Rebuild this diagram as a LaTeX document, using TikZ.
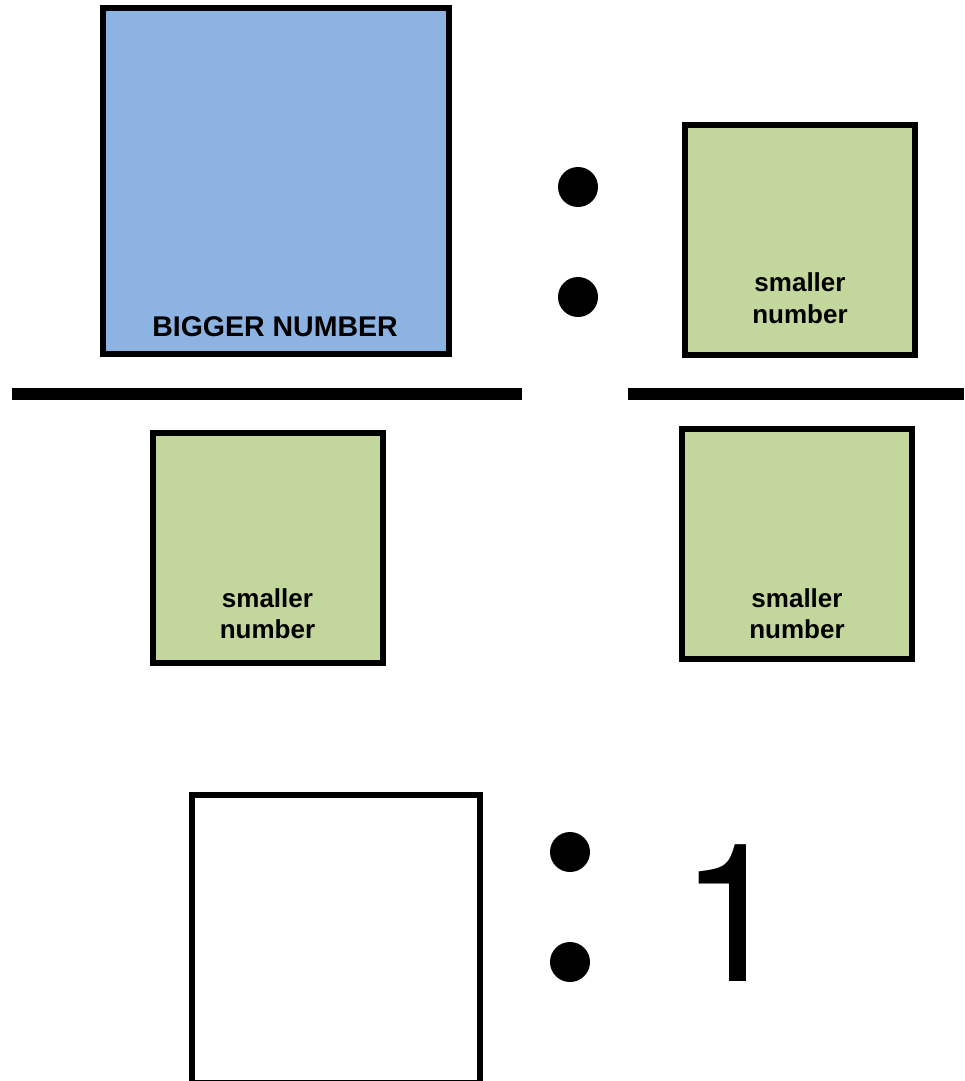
\documentclass[tikz,border=0pt]{standalone}
\usepackage{fontspec}
\setmainfont{Liberation Sans}
\newfontfamily\onefont{TeX Gyre Heros}
\usetikzlibrary{positioning}
\definecolor{bigblue}{HTML}{8DB3E2}
\definecolor{smallgreen}{HTML}{C3D69B}
\tikzset{
  bigbox/.style={draw=black, line width=6pt, fill=bigblue, inner sep=0pt,
                 minimum width=346pt, minimum height=346pt},
  smallbox/.style={draw=black, line width=6pt, fill=smallgreen, inner sep=0pt,
                   minimum size=230pt},
  blankbox/.style={draw=black, line width=6pt, fill=white, inner sep=0pt,
                   minimum size=288pt},
  dotmark/.style={circle, fill=black, inner sep=0pt, minimum size=40pt},
  boxlabel/.style={font=\bfseries\fontsize{26}{31}\selectfont, align=center, inner sep=0pt},
  bar/.style={line width=12pt, draw=black},
}
\begin{document}
\begin{tikzpicture}[x=1pt, y=-1pt]
  \useasboundingbox (0,0) rectangle (964,1081);
  % top row
  \node[bigbox] (big) at (275.75,181) {};
  \node[boxlabel, font=\bfseries\fontsize{28.5}{34}\selectfont, anchor=base] (bigtxt) at (275,336.5) {BIGGER NUMBER};
  \node[smallbox] (numR) at (800,239.5) {};
  \node[boxlabel, anchor=base] (numRtxt) at (800,291.5) {smaller};
  \node[boxlabel, anchor=base] (numRtxtb) at (800,323) {number};
  \foreach \y [count=\i] in {187,297}{
    \node[dotmark] (dotA\i) at (578,\y) {};
  }
  % fraction bars
  \coordinate (barLa) at (12,394);
  \coordinate (barLb) at (522,394);
  \coordinate (barRa) at (628,394);
  \coordinate (barRb) at (964,394);
  \draw[bar] (barLa) -- (barLb);
  \draw[bar] (barRa) -- (barRb);
  % denominators
  \node[smallbox] (denL) at (267.5,547.5) {};
  \node[smallbox] (denR) at (797,543.5) {};
  \foreach \n/\x in {denL/267.5,denR/797}{
    \node[boxlabel, anchor=base] (\n txt) at (\x,607) {smaller};
    \node[boxlabel, anchor=base] (\n txtb) at (\x,638) {number};
  }
  % result
  \node[blankbox] (res) at (335.5,939) {};
  \foreach \y [count=\i] in {852,962}{
    \node[dotmark] (dotB\i) at (570,\y) {};
  }
  \node[font=\onefont\fontsize{193}{193}\selectfont, inner sep=0pt, anchor=base] (one) at (733,981) {1};
\end{tikzpicture}
\end{document}
